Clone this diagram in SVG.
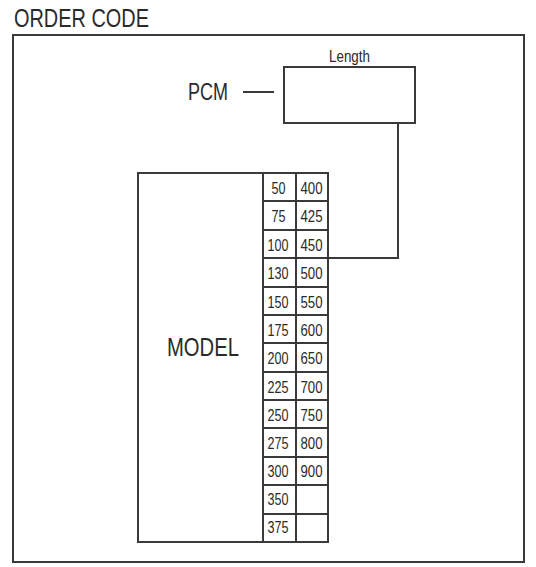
<svg xmlns="http://www.w3.org/2000/svg" width="536" height="567" viewBox="0 0 536 567">
<style>
.ln{fill:none;stroke:#3a3a3a;stroke-width:2}
.t{font-family:"Liberation Sans",Arial,sans-serif;fill:#2a2a2a}
.n{font-size:16px;text-anchor:middle}
</style>
<rect width="536" height="567" fill="#ffffff"/>
<text class="t" x="14" y="27" font-size="25" textLength="135" lengthAdjust="spacingAndGlyphs">ORDER CODE</text>
<g id="frame"><rect class="ln" x="13" y="35" width="511" height="527"/></g>
<g id="length-box">
<rect class="ln" x="284" y="67" width="131" height="56"/>
<text class="t" x="329" y="62" font-size="17" textLength="41" lengthAdjust="spacingAndGlyphs">Length</text>
</g>
<g id="pcm">
<text class="t" x="188" y="100" font-size="23" textLength="40" lengthAdjust="spacingAndGlyphs">PCM</text>
<line class="ln" x1="243" y1="92" x2="274" y2="92"/>
</g>
<g id="model">
<rect class="ln" x="138" y="173" width="125" height="369"/>
<text class="t" x="167" y="356" font-size="26" textLength="72" lengthAdjust="spacingAndGlyphs">MODEL</text>
</g>
<g id="table">
<rect class="ln" x="263" y="173" width="65" height="369"/>
<line class="ln" x1="296" y1="173" x2="296" y2="542"/>
<path class="ln" d="M263,201H328M263,230H328M263,258H328M263,287H328M263,315H328M263,343H328M263,372H328M263,400H328M263,428H328M263,457H328M263,485H328M263,514H328"/>
<g class="t n">
<text x="278.5" y="194" textLength="14" lengthAdjust="spacingAndGlyphs">50</text>
<text x="278.5" y="222" textLength="14" lengthAdjust="spacingAndGlyphs">75</text>
<text x="278" y="251" textLength="21" lengthAdjust="spacingAndGlyphs">100</text>
<text x="278" y="279" textLength="21" lengthAdjust="spacingAndGlyphs">130</text>
<text x="278" y="308" textLength="21" lengthAdjust="spacingAndGlyphs">150</text>
<text x="278" y="336" textLength="21" lengthAdjust="spacingAndGlyphs">175</text>
<text x="278" y="364" textLength="21" lengthAdjust="spacingAndGlyphs">200</text>
<text x="278" y="393" textLength="21" lengthAdjust="spacingAndGlyphs">225</text>
<text x="278" y="421" textLength="21" lengthAdjust="spacingAndGlyphs">250</text>
<text x="278" y="449" textLength="21" lengthAdjust="spacingAndGlyphs">275</text>
<text x="278" y="477" textLength="21" lengthAdjust="spacingAndGlyphs">300</text>
<text x="278" y="505" textLength="21" lengthAdjust="spacingAndGlyphs">350</text>
<text x="278" y="533" textLength="21" lengthAdjust="spacingAndGlyphs">375</text>
<text x="311.5" y="194" textLength="22" lengthAdjust="spacingAndGlyphs">400</text>
<text x="311.5" y="222" textLength="22" lengthAdjust="spacingAndGlyphs">425</text>
<text x="311.5" y="251" textLength="22" lengthAdjust="spacingAndGlyphs">450</text>
<text x="311.5" y="279" textLength="22" lengthAdjust="spacingAndGlyphs">500</text>
<text x="311.5" y="308" textLength="22" lengthAdjust="spacingAndGlyphs">550</text>
<text x="311.5" y="336" textLength="22" lengthAdjust="spacingAndGlyphs">600</text>
<text x="311.5" y="364" textLength="22" lengthAdjust="spacingAndGlyphs">650</text>
<text x="311.5" y="393" textLength="22" lengthAdjust="spacingAndGlyphs">700</text>
<text x="311.5" y="421" textLength="22" lengthAdjust="spacingAndGlyphs">750</text>
<text x="311.5" y="449" textLength="22" lengthAdjust="spacingAndGlyphs">800</text>
<text x="311.5" y="477" textLength="22" lengthAdjust="spacingAndGlyphs">900</text>
</g>
</g>
<g id="connectors">
<path class="ln" d="M328,258H398V123"/>
</g>
</svg>
